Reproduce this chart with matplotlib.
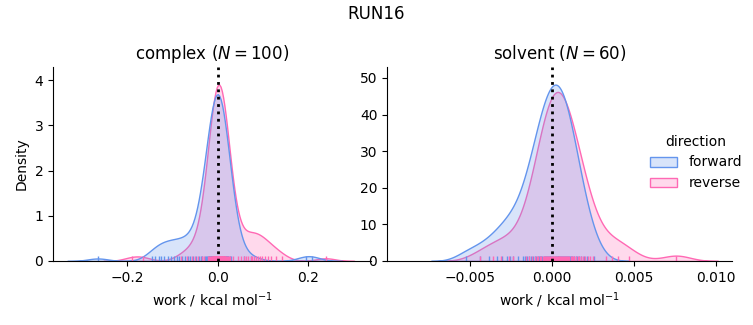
import numpy as np
import pandas as pd
import matplotlib
matplotlib.use("Agg")
import matplotlib.pyplot as plt
import seaborn as sns

run_name = "RUN16"
phases = ["complex", "solvent"]
directions = ["forward", "reverse"]
palette = ["cornflowerblue", "hotpink"]

complex_forward = [
    -0.265,
    -0.145, -0.138, -0.131, -0.125, -0.118, -0.111, -0.104, -0.097,
    -0.091, -0.085, -0.079, -0.073, -0.067, -0.061, -0.055, -0.049,
    -0.042, -0.038, -0.034,
    -0.0295, -0.0262, -0.0234, -0.0219, -0.0206, -0.0193, -0.0181,
    -0.017, -0.0162, -0.0154, -0.0145, -0.0137, -0.0129,
    -0.0122, -0.0116, -0.0111, -0.0105, -0.01, -0.0094, -0.0089, -0.0083, -0.0078,
    -0.0072, -0.0068, -0.0063, -0.0059, -0.0054, -0.005, -0.0045, -0.0041,
    -0.0036, -0.0032, -0.0027,
    -0.0024, -0.0016, -0.0008, -0.0004, 0.0, 0.0003,
    0.0011, 0.0015, 0.0019, 0.0023,
    0.0027, 0.0032, 0.0036, 0.0041, 0.0045, 0.005, 0.0054, 0.0059,
    0.0063, 0.0068, 0.0072,
    0.0078, 0.0083, 0.0089, 0.0094, 0.01, 0.0105, 0.0111, 0.0116, 0.0122,
    0.0129, 0.0137, 0.0145, 0.0154, 0.0162, 0.017, 0.0181, 0.0193,
    0.0206, 0.0219, 0.0234, 0.0262, 0.0295,
    0.058, 0.074, 0.194, 0.207,
]
complex_reverse = [
    -0.19, -0.166,
    -0.082, -0.068, -0.058, -0.05, -0.043, -0.036, -0.03,
    -0.022, -0.0195, -0.0175, -0.0153, -0.014, -0.0127, -0.0117, -0.011,
    -0.0103, -0.0097, -0.009, -0.0083, -0.0078, -0.0073, -0.0068, -0.0063,
    -0.0058, -0.0053, -0.0048, -0.0043, -0.0038, -0.0034, -0.003, -0.0026,
    -0.0023, -0.0019, -0.0016, -0.0012, -0.0009, -0.0005, -0.0002,
    0.0002, 0.0005, 0.0012, 0.0016, 0.0019, 0.0022, 0.0025,
    0.0032, 0.0035, 0.0038, 0.0042, 0.0045, 0.0049, 0.0052,
    0.0056, 0.0059, 0.0063, 0.0066, 0.007, 0.0074, 0.0078, 0.0083,
    0.0088, 0.0093, 0.0098, 0.0103, 0.0108, 0.0113, 0.0118, 0.0123,
    0.013, 0.0137, 0.0143, 0.015, 0.0157, 0.0167, 0.018, 0.0193,
    0.0215, 0.0235, 0.026, 0.034,
    0.045, 0.051, 0.057, 0.062, 0.067, 0.072, 0.076, 0.08, 0.084,
    0.088, 0.092, 0.097, 0.103, 0.11, 0.118, 0.128, 0.141,
    0.238,
]
# solvent values in units of 1e-3 kcal/mol
solvent_forward_milli = [
    -5.20, -4.37, -3.81, -3.35, -3.02, -2.75, -2.54, -2.33, -2.05, -1.77,
    -1.65, -1.51, -1.38, -1.25, -1.15, -1.04, -0.95, -0.86, -0.78, -0.69,
    -0.63, -0.56, -0.49, -0.43, -0.37, -0.29, -0.24, -0.18, -0.12, -0.07,
    -0.01, 0.04, 0.09, 0.19, 0.25, 0.30, 0.36, 0.41, 0.45, 0.51,
    0.56, 0.62, 0.68, 0.73, 0.79, 0.85, 0.92, 0.99, 1.05, 1.12,
    1.19, 1.27, 1.36, 1.46, 1.56, 1.66, 1.81, 1.99, 2.18, 2.60,
]
solvent_reverse_milli = [
    -4.36, -3.59, -3.07, -2.63, -2.33, -1.56, -1.36, -1.20, -1.04, -0.92,
    -0.82, -0.71, -0.62, -0.54, -0.46, -0.39, -0.33, -0.27, -0.21, -0.15,
    -0.10, -0.04, 0.01, 0.06, 0.12, 0.17, 0.22, 0.28, 0.33, 0.38,
    0.43, 0.48, 0.54, 0.59, 0.64, 0.70, 0.76, 0.82, 0.88, 0.94,
    1.01, 1.09, 1.16, 1.24, 1.32, 1.39, 1.49, 1.60, 1.70, 1.80,
    1.91, 2.04, 2.20, 2.35, 2.53, 3.34, 3.69, 4.08, 4.75, 7.60,
]

work = {
    ("complex", "forward"): np.array(complex_forward),
    ("complex", "reverse"): np.array(complex_reverse),
    ("solvent", "forward"): np.array(solvent_forward_milli) * 1e-3,
    ("solvent", "reverse"): np.array(solvent_reverse_milli) * 1e-3,
}
x_limits = {"complex": (-0.364, 0.338), "solvent": (-0.01004, 0.0110)}
x_ticks = {"complex": [-0.2, 0.0, 0.2], "solvent": [-0.005, 0.0, 0.005, 0.01]}

frames = []
for (phase, direction), w in work.items():
    frames.append(pd.DataFrame({"work": w, "direction": direction, "phase": phase}))
df = pd.concat(frames, ignore_index=True)

g = sns.displot(
    data=df, x="work", hue="direction", col="phase",
    kind="kde", fill=True, rug=True,
    hue_order=directions, col_order=phases, palette=palette,
    facet_kws=dict(sharex=False, sharey=False),
    height=3, aspect=1.1,
)
fig = g.figure
fig.set_size_inches(7.53, 3.25)

positions = [[0.0704, 0.197, 0.4223, 0.597], [0.514, 0.197, 0.458, 0.597]]
for ax, phase, pos in zip(g.axes.flat, phases, positions):
    ax.set_position(pos)
    ax.axvline(0, color="k", ls=":", lw=2)
    n = len(work[(phase, "forward")])
    ax.set_title(f"{phase} ($N={n}$)", fontsize=12)
    ax.set_xlabel("work / kcal mol$^{-1}$")
    ax.set_xlim(*x_limits[phase])
    ax.set_xticks(x_ticks[phase])

g.axes.flat[0].set_ylabel("Density")
g.axes.flat[1].set_ylabel("")

sns.move_legend(g, "center left", bbox_to_anchor=(0.846, 0.5), frameon=False)
fig.suptitle(run_name, y=0.985, fontsize=12)

fig.savefig("out.png", dpi=100)
